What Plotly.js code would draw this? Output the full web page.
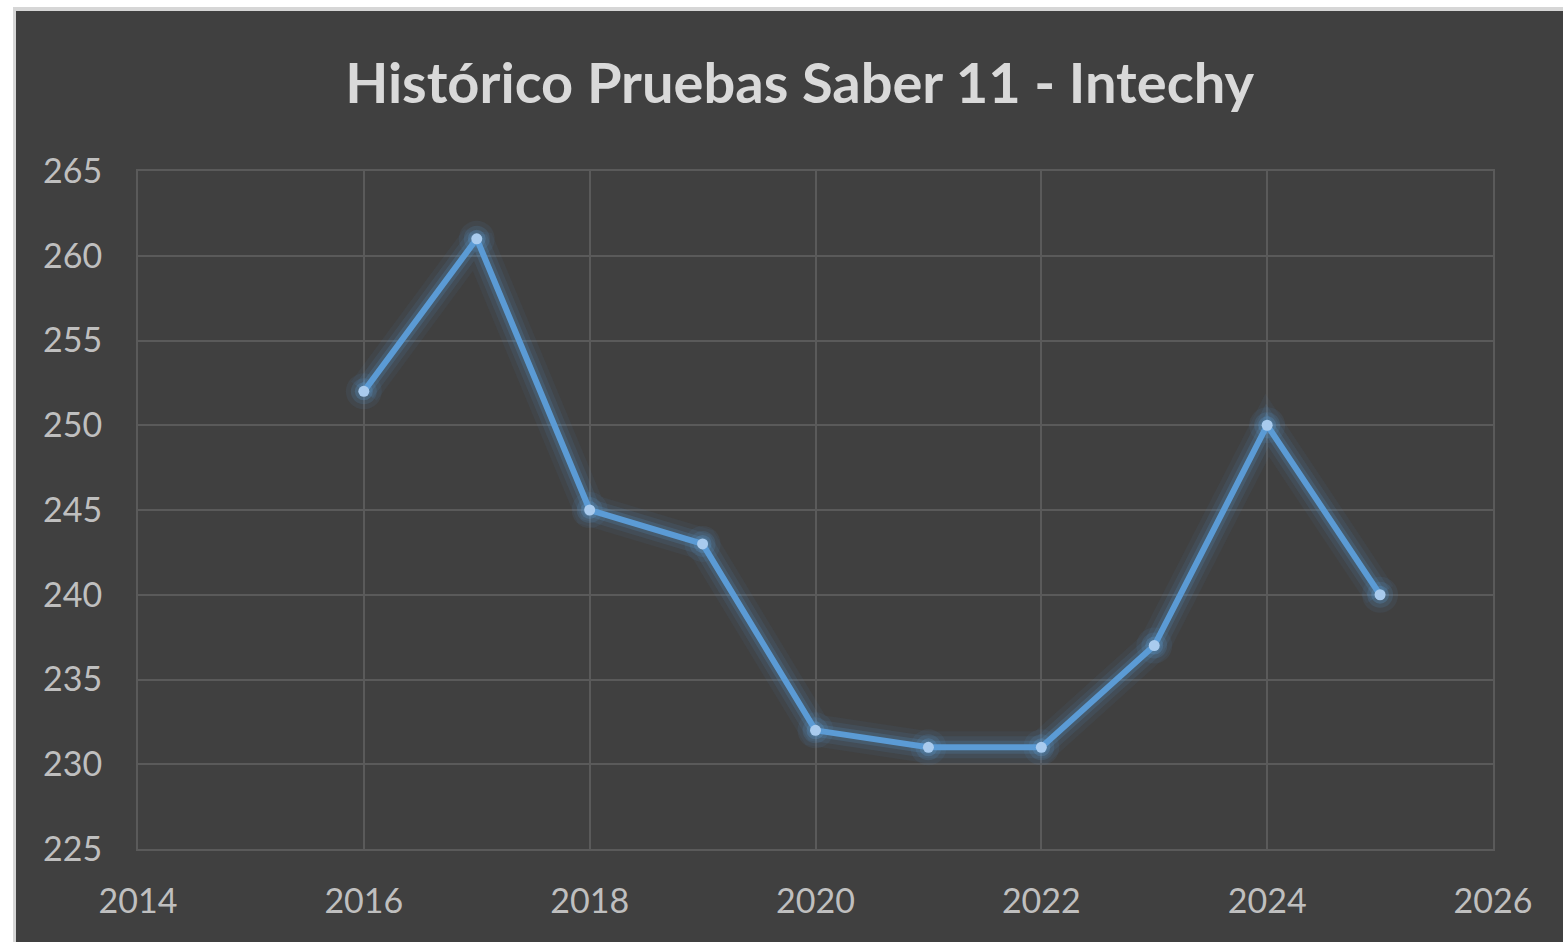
<!DOCTYPE html>
<html>
<head>
<meta charset="utf-8">
<script src="https://cdn.plot.ly/plotly-3.0.1.min.js"></script>
<style>
  html, body { margin: 0; padding: 0; background: #ffffff; overflow: hidden; }
  #frame { position: absolute; left: 13px; top: 7px; width: 1550px; height: 935px; background: #d6d6d6; }
  #chart { position: absolute; left: 3px; top: 4px; width: 1547px; height: 931px; }
</style>
</head>
<body>
<div id="frame"><div id="chart"></div></div>
<script>
const years = [2016, 2017, 2018, 2019, 2020, 2021, 2022, 2023, 2024, 2025];
const scores = [252, 261, 245, 243, 232, 231, 231, 237, 250, 240];
const titleText = 'Histórico Pruebas Saber 11 - Intechy';

function glow(width, alpha, msize, malpha) {
  return {
    x: years, y: scores, type: 'scatter', mode: 'lines+markers',
    line: { color: 'rgba(91,155,213,' + alpha + ')', width: width },
    marker: { color: 'rgba(91,155,213,' + malpha + ')', size: msize },
    hoverinfo: 'skip', showlegend: false
  };
}
const main = {
  x: years, y: scores, type: 'scatter', mode: 'lines+markers',
  line: { color: '#5b9bd5', width: 6 },
  marker: { color: '#a9cbee', size: 11 },
  showlegend: false
};

const layout = {
  width: 1547, height: 931,
  paper_bgcolor: '#404040', plot_bgcolor: '#404040',
  margin: { l: 122, r: 70, t: 160, b: 93 },
  title: {
    text: titleText,
    font: { family: 'Lato, "Open Sans", sans-serif', size: 56, color: '#d9d9d9', weight: 'bold' },
    x: 0.5065, xanchor: 'center', xref: 'container',
    y: 1 - 72 / 931, yanchor: 'middle', yref: 'container'
  },
  xaxis: {
    range: [2014, 2026], dtick: 2, tick0: 2014,
    showgrid: true, gridcolor: '#5a5a5a', gridwidth: 2,
    showline: true, mirror: true, linecolor: '#5a5a5a', linewidth: 2,
    zeroline: false, ticks: '', ticklabelstandoff: 21,
    tickfont: { family: 'Lato, "Open Sans", sans-serif', size: 34, color: '#bfbfbf' }
  },
  yaxis: {
    range: [225, 265], dtick: 5, tick0: 225,
    showgrid: true, gridcolor: '#5a5a5a', gridwidth: 2,
    showline: true, mirror: true, linecolor: '#5a5a5a', linewidth: 2,
    zeroline: false, ticks: '', ticklabelstandoff: 27,
    tickfont: { family: 'Lato, "Open Sans", sans-serif', size: 34, color: '#bfbfbf' }
  }
};

Plotly.newPlot('chart', [glow(32, 0.06, 36, 0.08), glow(22, 0.10, 26, 0.14), glow(13, 0.18, 18, 0.25), main], layout, { displayModeBar: false, staticPlot: true });
</script>
</body>
</html>
